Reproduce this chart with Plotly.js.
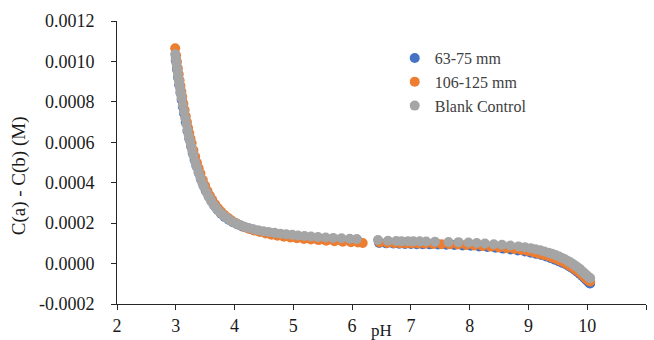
<!DOCTYPE html>
<html>
<head>
<meta charset="utf-8">
<script src="https://cdn.plot.ly/plotly-3.0.1.min.js"></script>
<style>html,body{margin:0;padding:0;background:#fff;}#chart{width:654px;height:340px;}</style>
</head>
<body>
<div id="chart"></div>
<script>
// Series names
const seriesNames = ["63-75 mm", "106-125 mm", "Blank Control"];

// 63-75 mm
const phA = [3.00,3.02,3.04,3.06,3.08,3.10,3.12,3.14,3.17,3.20,3.23,3.26,3.29,3.32,3.35,3.39,3.43,3.47,3.51,3.56,3.61,3.66,3.71,3.77,3.83,3.90,3.97,4.05,4.13,4.22,4.31,4.41,4.51,4.62,4.73,4.85,4.97,5.10,5.23,5.37,5.51,5.66,5.81,5.96,6.10,
  6.46,6.58,6.70,6.80,6.90,7.00,7.10,7.20,7.32,7.46,7.60,7.74,7.88,8.02,8.16,8.30,8.44,8.57,8.70,8.82,8.94,9.04,9.13,9.22,9.30,9.38,9.45,9.52,9.58,9.64,9.69,9.74,9.79,9.83,9.87,9.91,9.95,9.98,10.01,10.04,10.05];
const valA = [0.001005,0.000962,0.000921,0.000882,0.000845,0.000810,0.000776,0.000744,0.000699,0.000656,0.000617,0.000580,0.000546,0.000514,0.000485,0.000449,0.000416,0.000387,0.000361,0.000332,0.000307,0.000285,0.000266,0.000247,0.000231,0.000217,0.000205,0.000194,0.000184,0.000176,0.000168,0.000161,0.000154,0.000148,0.000143,0.000138,0.000134,0.000130,0.000127,0.000124,0.000121,0.000118,0.000116,0.000113,0.000111,
  0.000102,0.000100,0.000099,0.000098,0.000097,0.000097,0.000096,0.000096,0.000095,0.000094,0.000093,0.000092,0.000090,0.000088,0.000085,0.000082,0.000078,0.000074,0.000070,0.000065,0.000060,0.000054,0.000048,0.000042,0.000035,0.000027,0.000019,0.000011,0.000003,-0.000005,-0.000013,-0.000022,-0.000031,-0.000040,-0.000050,-0.000060,-0.000071,-0.000080,-0.000089,-0.000097,-0.000099];

// 106-125 mm
const phB = [2.99,3.005,3.02,3.035,3.05,3.065,3.08,3.095,3.11,3.13,3.15,3.17,3.19,3.21,3.23,3.25,3.27,3.30,3.33,3.36,3.39,3.42,3.46,3.50,3.54,3.58,3.62,3.67,3.72,3.77,3.83,3.89,3.95,4.02,4.09,4.17,4.25,4.34,4.43,4.53,4.63,4.73,4.84,4.95,5.06,5.18,5.30,5.43,5.56,5.70,5.84,5.98,6.10,6.18,
  6.47,6.60,6.72,6.82,6.92,7.02,7.12,7.24,7.38,7.52,7.66,7.80,7.94,8.08,8.22,8.36,8.50,8.63,8.76,8.88,8.99,9.09,9.18,9.26,9.34,9.41,9.48,9.54,9.60,9.65,9.70,9.75,9.80,9.84,9.88,9.92,9.96,9.99,10.02,10.05];
const valB = [0.001065,0.001030,0.000998,0.000966,0.000936,0.000906,0.000878,0.000851,0.000825,0.000791,0.000759,0.000728,0.000699,0.000671,0.000644,0.000619,0.000595,0.000561,0.000529,0.000499,0.000471,0.000445,0.000413,0.000385,0.000359,0.000336,0.000315,0.000293,0.000274,0.000257,0.000240,0.000226,0.000213,0.000201,0.000190,0.000180,0.000171,0.000163,0.000156,0.000149,0.000143,0.000138,0.000133,0.000129,0.000125,0.000122,0.000119,0.000116,0.000113,0.000111,0.000108,0.000106,0.000104,0.000102,
  0.000104,0.000102,0.000101,0.000100,0.000100,0.000099,0.000099,0.000098,0.000097,0.000096,0.000095,0.000094,0.000092,0.000090,0.000087,0.000084,0.000080,0.000076,0.000072,0.000067,0.000062,0.000055,0.000049,0.000043,0.000036,0.000029,0.000022,0.000014,0.000006,-0.000002,-0.000010,-0.000019,-0.000029,-0.000037,-0.000047,-0.000057,-0.000067,-0.000076,-0.000083,-0.000089];

// Blank Control
const phC = [2.99,3.00,3.01,3.02,3.03,3.04,3.05,3.06,3.07,3.08,3.09,3.10,3.12,3.14,3.16,3.18,3.20,3.22,3.24,3.26,3.28,3.30,3.33,3.36,3.39,3.42,3.45,3.48,3.52,3.56,3.60,3.64,3.68,3.72,3.77,3.82,3.87,3.92,3.98,4.04,4.10,4.17,4.24,4.32,4.40,4.49,4.58,4.68,4.78,4.88,4.98,5.08,5.19,5.30,5.42,5.55,5.68,5.82,5.96,6.08,
  6.44,6.61,6.75,6.84,6.95,7.04,7.15,7.26,7.41,7.64,7.81,7.98,8.12,8.26,8.41,8.55,8.69,8.83,8.94,9.04,9.12,9.20,9.27,9.34,9.40,9.46,9.52,9.57,9.62,9.67,9.71,9.75,9.79,9.83,9.87,9.90,9.93,9.96,9.99,10.02,10.05];
const valC = [0.001035,0.001015,0.000993,0.000972,0.000951,0.000931,0.000911,0.000892,0.000873,0.000854,0.000836,0.000818,0.000784,0.000751,0.000720,0.000690,0.000661,0.000634,0.000608,0.000583,0.000559,0.000536,0.000505,0.000476,0.000449,0.000424,0.000401,0.000380,0.000354,0.000331,0.000311,0.000293,0.000277,0.000263,0.000248,0.000235,0.000224,0.000214,0.000204,0.000196,0.000189,0.000182,0.000176,0.000170,0.000165,0.000160,0.000156,0.000152,0.000148,0.000145,0.000142,0.000139,0.000136,0.000134,0.000131,0.000129,0.000127,0.000125,0.000123,0.000121,
  0.000117,0.000113,0.000112,0.000111,0.000111,0.000110,0.000110,0.000109,0.000108,0.000107,0.000106,0.000104,0.000102,0.000099,0.000096,0.000093,0.000089,0.000085,0.000081,0.000076,0.000071,0.000066,0.000060,0.000054,0.000048,0.000042,0.000035,0.000028,0.000021,0.000013,0.000006,-0.000001,-0.000009,-0.000017,-0.000026,-0.000034,-0.000042,-0.000050,-0.000058,-0.000065,-0.000072];

// Axis ticks
const xTicks = [2,3,4,5,6,7,8,9,10,11];
const yTicks = [-0.0002,0,0.0002,0.0004,0.0006,0.0008,0.0010,0.0012];
const yTickText = ["-0.0002","0.0000","0.0002","0.0004","0.0006","0.0008","0.0010","0.0012"];
const yTitle = "C(a) - C(b) (M)";
const xTitle = "pH";

const colors = ["#4472C4","#ED7D31","#A5A5A5"];
const font = "'Liberation Serif'";

function tr(x, y, i){
  return {x:x, y:y, type:"scatter", mode:"markers", name:seriesNames[i],
    marker:{color:colors[i], size:10, line:{width:0}}};
}
const data = [tr(phA,valA,0), tr(phB,valB,1), tr(phC,valC,2)];

const layout = {
  width:654, height:340,
  margin:{l:117, r:8, t:21, b:36},
  paper_bgcolor:"#fff", plot_bgcolor:"#fff",
  font:{family:font, size:17, color:"#1a1a1a"},
  showlegend:true,
  legend:{x:0.525, y:0.929, xanchor:"left", yanchor:"top", bgcolor:"rgba(0,0,0,0)",
    font:{family:font, size:16, color:"#404040"}, itemwidth:20, tracegroupgap:0},
  xaxis:{range:[2,11], tickvals:xTicks, ticktext:xTicks.map(String),
    showgrid:false, zeroline:false, showline:true, linecolor:"#262626", linewidth:1,
    ticks:"outside", ticklen:5, tickcolor:"#262626", tickfont:{family:font,size:18,color:"#1a1a1a"},
    title:{text:xTitle, font:{family:font,size:17,color:"#1a1a1a"}, standoff:1}},
  yaxis:{range:[-0.0002,0.0012], tickvals:yTicks, ticktext:yTickText,
    showgrid:false, zeroline:false, showline:true, linecolor:"#262626", linewidth:1,
    ticks:"outside", ticklen:5, tickcolor:"#262626", ticklabelstandoff:13,
    tickfont:{family:font,size:18,color:"#1a1a1a"}},
  annotations:[{text:yTitle, xref:"paper", yref:"paper", x:-0.185, y:0.452,
    xanchor:"center", yanchor:"middle", textangle:-90, showarrow:false,
    font:{family:font,size:19,color:"#1a1a1a"}}]
};
Plotly.newPlot("chart", data, layout, {displayModeBar:false, staticPlot:true});
</script>
</body>
</html>
